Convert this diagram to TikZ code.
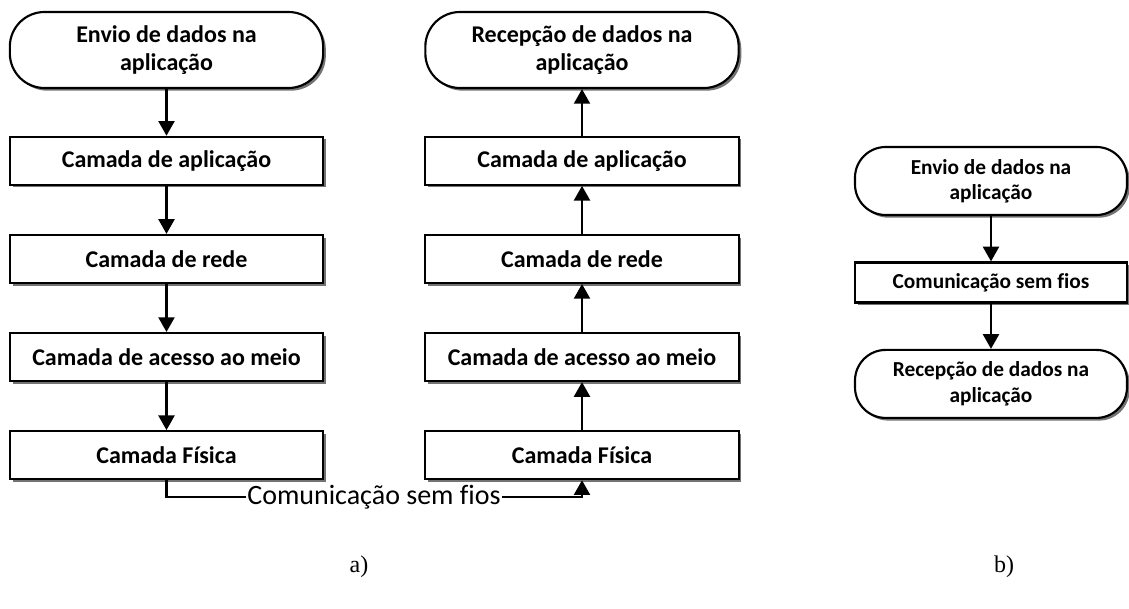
\documentclass[tikz,border=0pt]{standalone}
\usepackage{fontspec}
\setmainfont{Carlito}[Ligatures=NoCommon]
\newfontfamily\legenda{Liberation Serif}
\usetikzlibrary{positioning,arrows.meta,shadows}
\tikzset{
  sombra/.style   = {drop shadow={shadow xshift=2pt, shadow yshift=-2pt, fill=black!55, opacity=1}},
  terminal/.style = {draw, line width=1.6pt, rounded corners=26pt, align=center, minimum height=57pt,
                     minimum width=235pt, fill=white, sombra, font=\bfseries\fontsize{18}{21}\selectfont},
  camada/.style   = {draw, line width=1.6pt, align=center, minimum height=36pt,
                     minimum width=235pt, fill=white, sombra, font=\bfseries\fontsize{18}{21}\selectfont},
  terminalb/.style= {terminal, rounded corners=23pt, minimum height=51pt, minimum width=204pt,
                     font=\bfseries\fontsize{16}{19}\selectfont},
  camadab/.style  = {camada, minimum height=30pt, minimum width=204pt,
                     font=\bfseries\fontsize{16}{19}\selectfont},
  arrow/.style    = {-{Triangle[length=11pt,width=12pt]}, line width=1.6pt},
  legenda/.style  = {font=\legenda\fontsize{18}{21}\selectfont},
}
\begin{document}
\begin{tikzpicture}[x=0.75pt, y=-0.75pt, node distance=36pt]
  \useasboundingbox (0,0) rectangle (1129,609);
  % a) envio
  \node[terminal] (envio) at (166.5,50) {Envio de dados na\\ aplicação};
  \node[camada, below=35pt of envio] (apl1) {Camada de aplicação};
  \node[camada, below=of apl1] (rede1) {Camada de rede};
  \node[camada, below=of rede1] (mac1) {Camada de acesso ao meio};
  \node[camada, below=of mac1] (fis1) {Camada Física};
  \draw[arrow] (envio) -- (apl1); \draw[arrow] (apl1) -- (rede1); \draw[arrow] (rede1) -- (mac1); \draw[arrow] (mac1) -- (fis1);
  % a) recepcao
  \node[terminal] (recep) at (582,50) {Recepção de dados na\\ aplicação};
  \node[camada, below=35pt of recep] (apl2) {Camada de aplicação};
  \node[camada, below=of apl2] (rede2) {Camada de rede};
  \node[camada, below=of rede2] (mac2) {Camada de acesso ao meio};
  \node[camada, below=of mac2] (fis2) {Camada Física};
  \draw[arrow] (fis2) -- (mac2); \draw[arrow] (mac2) -- (rede2); \draw[arrow] (rede2) -- (apl2); \draw[arrow] (apl2) -- (recep);
  % meio sem fios
  \node[inner sep=1pt, font=\fontsize{21}{25}\selectfont] (sem) at (374,497) {Comunicação sem fios};
  \draw[line width=1.6pt] (fis1.south) |- (sem.west);
  \draw[arrow] (sem.east) -| (fis2.south);
  % b)
  \node[terminalb] (envb) at (991,181) {Envio de dados na\\ aplicação};
  \node[camadab, below=34pt of envb] (semb) {Comunicação sem fios};
  \node[terminalb, below=34pt of semb] (recb) {Recepção de dados na\\ aplicação};
  \draw[arrow] (envb) -- (semb); \draw[arrow] (semb) -- (recb);
  % legendas
  \node[legenda] (la) at (359,567) {a)};
  \node[legenda] (lb) at (1004,567) {b)};
\end{tikzpicture}
\end{document}
